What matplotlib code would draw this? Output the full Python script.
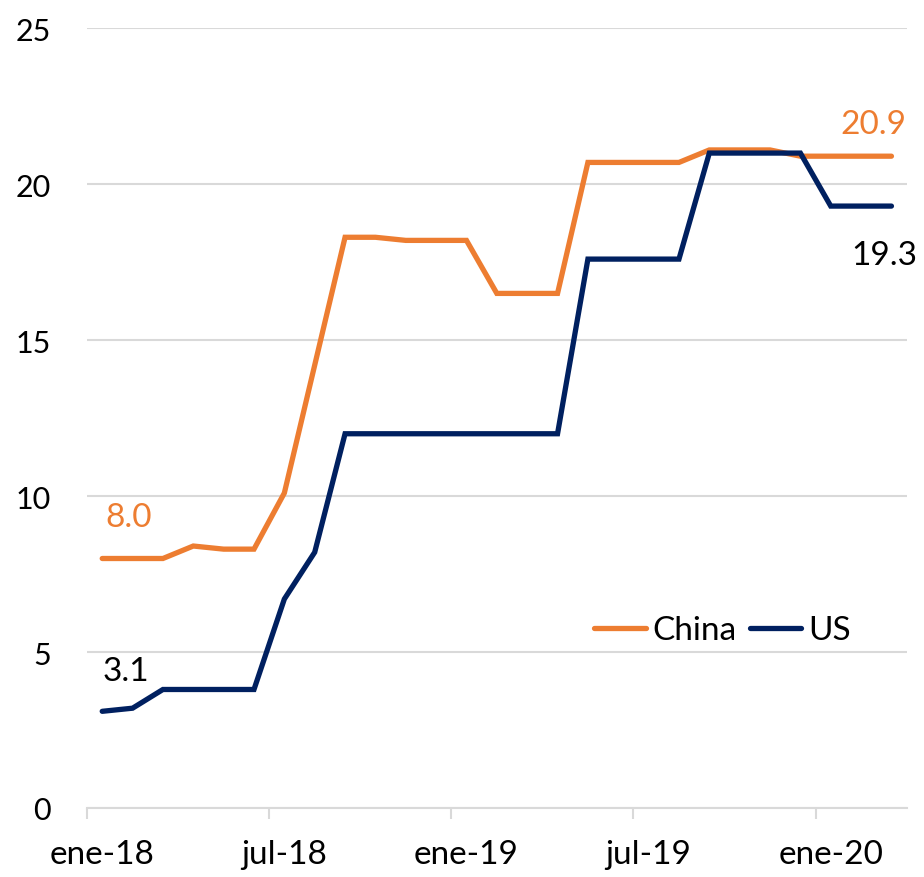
import matplotlib.pyplot as plt
import numpy as np

# ---------------------------------------------------------
# Data (monthly, ene-18 .. mar-20)
# ---------------------------------------------------------
china = [8.0, 8.0, 8.0, 8.4, 8.3, 8.3, 10.1, 14.2, 18.3, 18.3, 18.2, 18.2, 18.2,
         16.5, 16.5, 16.5, 20.7, 20.7, 20.7, 20.7, 21.1, 21.1, 21.1, 20.9, 20.9,
         20.9, 20.9]
us = [3.1, 3.2, 3.8, 3.8, 3.8, 3.8, 6.7, 8.2, 12.0, 12.0, 12.0, 12.0, 12.0,
      12.0, 12.0, 12.0, 17.6, 17.6, 17.6, 17.6, 21.0, 21.0, 21.0, 21.0, 19.3,
      19.3, 19.3]
tick_months = [0, 6, 12, 18, 24]
tick_labels = ['ene-18', 'jul-18', 'ene-19', 'jul-19', 'ene-20']
y_ticks = [0, 5, 10, 15, 20, 25]

orange = '#ED7D31'
navy = '#002060'
grid_color = '#d9d9d9'

plt.rcParams['font.family'] = ['Lato', 'DejaVu Sans']

fig = plt.figure(figsize=(9.24, 8.78), dpi=100)
ax = fig.add_axes([0.0942, 0.0786, 0.887, 0.888])

x = np.arange(len(china))
ax.plot(x, china, color=orange, lw=3.8, solid_capstyle='round',
        solid_joinstyle='miter', label='China', zorder=3)
ax.plot(x, us, color=navy, lw=3.8, solid_capstyle='round',
        solid_joinstyle='miter', label='US', zorder=3)

ax.set_xlim(-0.5, len(china) - 0.5)
ax.set_ylim(0, 25)
ax.set_yticks(y_ticks)
# labels sit on the month, tick marks on the month boundary
ax.set_xticks(tick_months)
ax.set_xticklabels(tick_labels)
ax.set_xticks([m - 0.5 for m in tick_months], minor=True)

ax.grid(axis='y', color=grid_color, lw=1.5, zorder=0)
for s in ['top', 'right', 'left']:
    ax.spines[s].set_visible(False)
ax.spines['bottom'].set_color(grid_color)
ax.spines['bottom'].set_linewidth(1.5)
ax.tick_params(axis='y', length=0, pad=26, labelsize=22)
ax.tick_params(axis='x', which='major', length=0, pad=22, labelsize=24)
ax.tick_params(axis='x', which='minor', length=8, width=1.5, color=grid_color)

# data labels at first and last points
ax.annotate(f'{china[0]:.1f}', (x[0], china[0]), xytext=(19, 30),
            textcoords='offset points', ha='center', va='center',
            color=orange, fontsize=24)
ax.annotate(f'{us[0]:.1f}', (x[0], us[0]), xytext=(17, 29),
            textcoords='offset points', ha='center', va='center',
            color='black', fontsize=24)
ax.annotate(f'{china[-1]:.1f}', (x[-1], china[-1]), xytext=(-13, 23),
            textcoords='offset points', ha='center', va='center',
            color=orange, fontsize=24)
ax.annotate(f'{us[-1]:.1f}', (x[-1], us[-1]), xytext=(-5, -35),
            textcoords='offset points', ha='center', va='center',
            color='black', fontsize=24)

ax.legend(loc='center', bbox_to_anchor=(0.775, 0.228), ncol=2, frameon=False,
          fontsize=24, handlelength=1.55, handletextpad=0.2, columnspacing=0.4)

plt.savefig('out.png', dpi=100)
